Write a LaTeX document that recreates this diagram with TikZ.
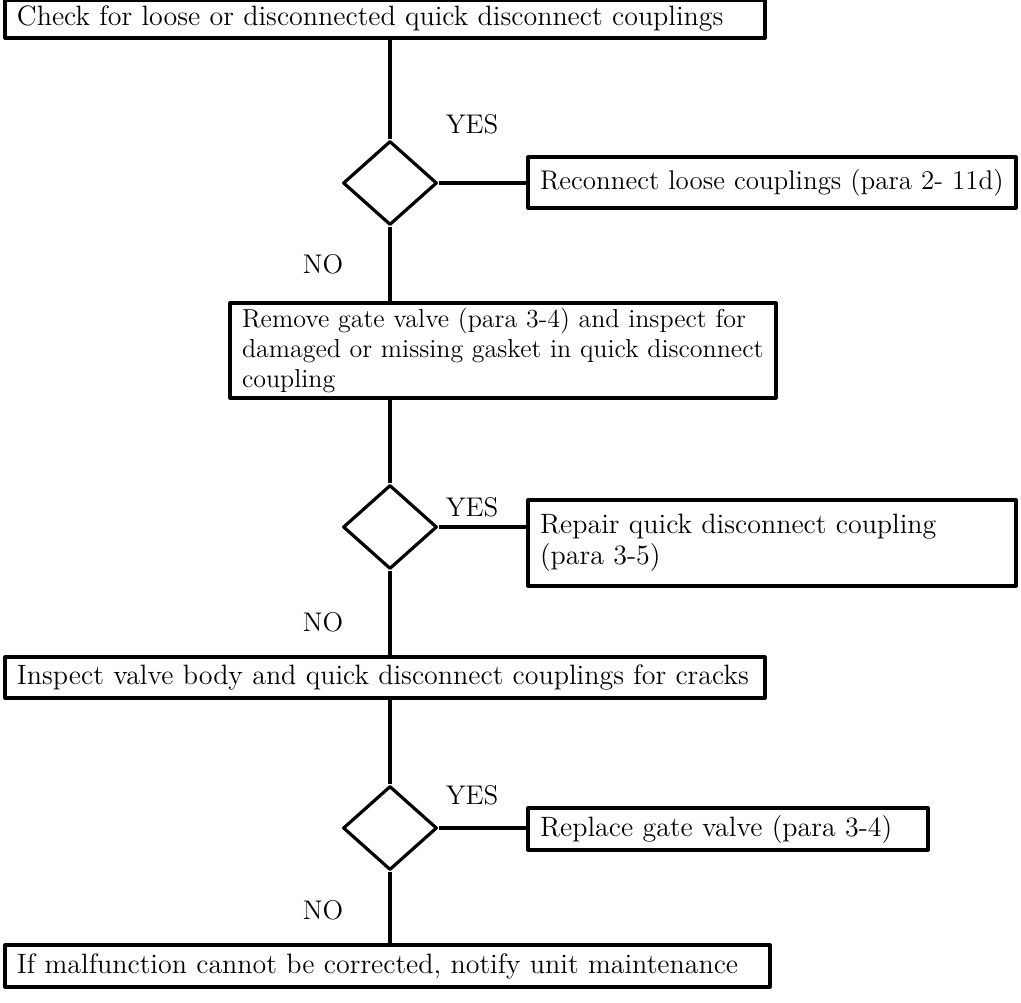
\documentclass[tikz,border=0pt]{standalone}
\usetikzlibrary{shapes.geometric}

\begin{document}
\begin{tikzpicture}[
  x=0.5pt,
  y=-0.5pt,
  line join=round,
  stepbox/.style={draw=black,line width=1.6pt,rectangle,align=left,
    inner xsep=6pt,inner ysep=0pt,font=\fontsize{14}{15.5}\selectfont},
  test/.style={draw=black,line width=1.6pt,diamond,minimum width=47pt,
    minimum height=42pt,inner sep=0pt},
  link/.style={draw=black,line width=1.6pt},
  answer/.style={font=\fontsize{13.5}{15}\selectfont}
]
  \useasboundingbox (0,0) rectangle (1021,1002);

  % Action boxes.
  \node[stepbox,text width=368pt,minimum height=19pt] (check) at (385,19)
    {Check for loose or disconnected quick disconnect couplings};
  \node[stepbox,text width=232pt,minimum height=25.5pt,
        font=\fontsize{13.5}{15}\selectfont] (reconnect) at (772,182.5)
    {Reconnect loose couplings (para 2- 11d)};
  \node[stepbox,text width=261pt,minimum height=47.5pt,
        font=\fontsize{13}{15}\selectfont] (remove) at (503,350.5)
    {Remove gate valve (para 3-4) and inspect for\\
     damaged or missing gasket in quick disconnect\\
     coupling};
  \node[stepbox,text width=232pt,minimum height=43pt] (repair) at (772,543)
    {Repair quick disconnect coupling\\(para 3-5)};
  \node[stepbox,text width=368pt,minimum height=20.5pt] (inspect) at (385,677.5)
    {Inspect valve body and quick disconnect couplings for cracks};
  \node[stepbox,text width=188pt,minimum height=21pt] (replace) at (728,829)
    {Replace gate valve (para 3-4)};
  \node[stepbox,text width=370.5pt,minimum height=21pt] (notify) at (387.5,966)
    {If malfunction cannot be corrected, notify unit maintenance};

  % Decisions.
  \node[test] (d1) at (390,183) {};
  \node[test] (d2) at (390,527) {};
  \node[test] (d3) at (390,828) {};

  % Answers.
  \node[answer] (yes1) at (472,124) {YES};
  \node[answer] (no1) at (323,264) {NO};
  \node[answer] (yes2) at (472,507) {YES};
  \node[answer] (no2) at (323,622) {NO};
  \node[answer] (yes3) at (472,795) {YES};
  \node[answer] (no3) at (323,910) {NO};

  % Flow lines.
  \draw[link] (d1.north |- check.south) -- (d1.north);
  \draw[link] (d1.east) -- (d1.east -| reconnect.west);
  \draw[link] (d1.south) -- (d1.south |- remove.north);
  \draw[link] (d2.north |- remove.south) -- (d2.north);
  \draw[link] (d2.east) -- (d2.east -| repair.west);
  \draw[link] (d2.south) -- (d2.south |- inspect.north);
  \draw[link] (d3.north |- inspect.south) -- (d3.north);
  \draw[link] (d3.east) -- (d3.east -| replace.west);
  \draw[link] (d3.south) -- (d3.south |- notify.north);
\end{tikzpicture}
\end{document}
